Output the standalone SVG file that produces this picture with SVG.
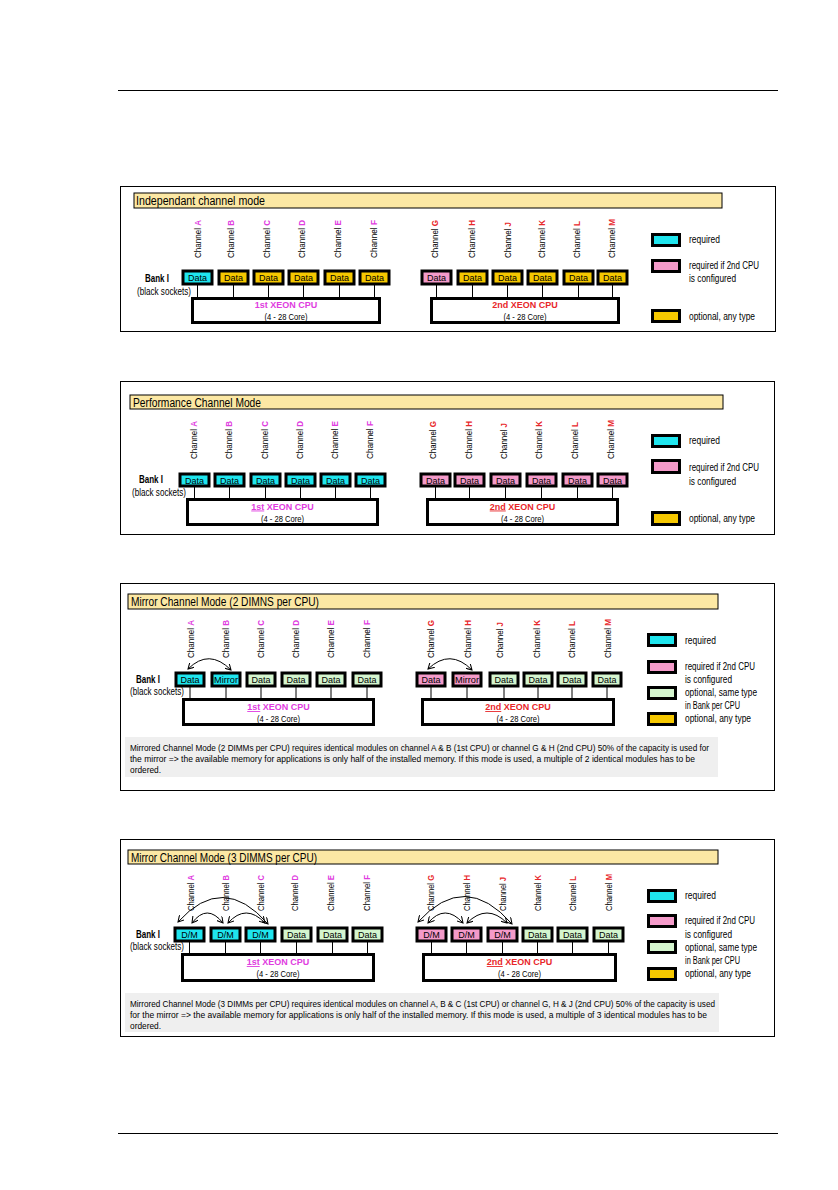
<svg xmlns="http://www.w3.org/2000/svg" width="838" height="1190" viewBox="0 0 838 1190" font-family="'Liberation Sans', Arial, sans-serif">
<style>
.pb{fill:none;stroke:#000;stroke-width:1}
.tb{fill:#FCE8A4;stroke:#000;stroke-width:1}
.tt{font-size:12px}
.ch{font-size:9px;fill:#000}
.m{fill:#E03CE0;font-weight:bold}
.r{fill:#E8272A;font-weight:bold}
.bx{stroke:#000;stroke-width:3}
.c{fill:#1FE5EE}.p{fill:#F49AC9}.y{fill:#F6C800}.g{fill:#D4F5CE}
.dt{font-size:9px;text-anchor:middle}
.cpu{fill:#fff;stroke:#000;stroke-width:3}
.ct{font-size:9.5px;text-anchor:middle}
.cx{font-size:9px;text-anchor:middle}
.lt{font-size:10px}
.bk{font-size:10px}
.cn{stroke:#000;stroke-width:1}
.arc{fill:none;stroke:#000;stroke-width:1;marker-start:url(#ah);marker-end:url(#ah)}
.gb{fill:#EFEFEF}
.gt{font-size:9.5px}
.u{text-decoration:underline}
</style>
<defs>
<marker id="ah" viewBox="0 0 8 8" refX="7" refY="4" markerWidth="7" markerHeight="7" markerUnits="userSpaceOnUse" orient="auto-start-reverse">
<path d="M0,0 L7,4 L0,8" fill="none" stroke="#000" stroke-width="1.2"/>
</marker>
</defs>
<rect width="838" height="1190" fill="#fff"/>
<line x1="118" y1="90.5" x2="778" y2="90.5" stroke="#000" stroke-width="1"/>
<line x1="118" y1="1133.5" x2="778" y2="1133.5" stroke="#000" stroke-width="1"/>

<!-- PANEL 1 -->
<g id="panel1">
<rect class="pb" x="120.5" y="186.5" width="655" height="145"/>
<rect class="tb" x="134" y="193" width="588" height="15"/>
<text class="tt" x="136" y="205" textLength="129" lengthAdjust="spacingAndGlyphs">Independant channel mode</text>
<g id="p1-labels">
<text class="ch" textLength="38" lengthAdjust="spacingAndGlyphs" transform="translate(201,258) rotate(-90)">Channel <tspan class="m">A</tspan></text>
<text class="ch" textLength="38" lengthAdjust="spacingAndGlyphs" transform="translate(234,258) rotate(-90)">Channel <tspan class="m">B</tspan></text>
<text class="ch" textLength="38" lengthAdjust="spacingAndGlyphs" transform="translate(270,258) rotate(-90)">Channel <tspan class="m">C</tspan></text>
<text class="ch" textLength="38" lengthAdjust="spacingAndGlyphs" transform="translate(305,258) rotate(-90)">Channel <tspan class="m">D</tspan></text>
<text class="ch" textLength="38" lengthAdjust="spacingAndGlyphs" transform="translate(341,258) rotate(-90)">Channel <tspan class="m">E</tspan></text>
<text class="ch" textLength="38" lengthAdjust="spacingAndGlyphs" transform="translate(377,258) rotate(-90)">Channel <tspan class="m">F</tspan></text>
<text class="ch" textLength="38" lengthAdjust="spacingAndGlyphs" transform="translate(438,258) rotate(-90)">Channel <tspan class="r">G</tspan></text>
<text class="ch" textLength="38" lengthAdjust="spacingAndGlyphs" transform="translate(475,258) rotate(-90)">Channel <tspan class="r">H</tspan></text>
<text class="ch" textLength="36" lengthAdjust="spacingAndGlyphs" transform="translate(511,258) rotate(-90)">Channel <tspan class="r">J</tspan></text>
<text class="ch" textLength="38" lengthAdjust="spacingAndGlyphs" transform="translate(545,258) rotate(-90)">Channel <tspan class="r">K</tspan></text>
<text class="ch" textLength="37" lengthAdjust="spacingAndGlyphs" transform="translate(580,258) rotate(-90)">Channel <tspan class="r">L</tspan></text>
<text class="ch" textLength="39" lengthAdjust="spacingAndGlyphs" transform="translate(615,258) rotate(-90)">Channel <tspan class="r">M</tspan></text>
</g>
<text class="bk" x="145" y="282" font-weight="bold" textLength="24" lengthAdjust="spacingAndGlyphs">Bank I</text>
<text class="bk" x="137" y="295" textLength="54" lengthAdjust="spacingAndGlyphs">(black sockets)</text>
<g id="p1-connectors">
<line class="cn" x1="197.5" y1="285" x2="197.5" y2="297"/>
<line class="cn" x1="233.5" y1="285" x2="233.5" y2="297"/>
<line class="cn" x1="268.5" y1="285" x2="268.5" y2="297"/>
<line class="cn" x1="303.5" y1="285" x2="303.5" y2="297"/>
<line class="cn" x1="339.5" y1="285" x2="339.5" y2="297"/>
<line class="cn" x1="374.5" y1="285" x2="374.5" y2="297"/>
<line class="cn" x1="436.5" y1="285" x2="436.5" y2="297"/>
<line class="cn" x1="472.5" y1="285" x2="472.5" y2="297"/>
<line class="cn" x1="507.5" y1="285" x2="507.5" y2="297"/>
<line class="cn" x1="542.5" y1="285" x2="542.5" y2="297"/>
<line class="cn" x1="578.5" y1="285" x2="578.5" y2="297"/>
<line class="cn" x1="612.5" y1="285" x2="612.5" y2="297"/>
</g>
<g id="p1-boxes">
<rect class="bx c" x="183" y="271" width="29" height="13"/><text class="dt" x="197.5" y="281">Data</text>
<rect class="bx y" x="219" y="271" width="29" height="13"/><text class="dt" x="233.5" y="281">Data</text>
<rect class="bx y" x="254" y="271" width="29" height="13"/><text class="dt" x="268.5" y="281">Data</text>
<rect class="bx y" x="289" y="271" width="29" height="13"/><text class="dt" x="303.5" y="281">Data</text>
<rect class="bx y" x="325" y="271" width="29" height="13"/><text class="dt" x="339.5" y="281">Data</text>
<rect class="bx y" x="360" y="271" width="29" height="13"/><text class="dt" x="374.5" y="281">Data</text>
<rect class="bx p" x="422" y="271" width="29" height="13"/><text class="dt" x="436.5" y="281">Data</text>
<rect class="bx y" x="458" y="271" width="29" height="13"/><text class="dt" x="472.5" y="281">Data</text>
<rect class="bx y" x="493" y="271" width="29" height="13"/><text class="dt" x="507.5" y="281">Data</text>
<rect class="bx y" x="528" y="271" width="29" height="13"/><text class="dt" x="542.5" y="281">Data</text>
<rect class="bx y" x="564" y="271" width="29" height="13"/><text class="dt" x="578.5" y="281">Data</text>
<rect class="bx y" x="598" y="271" width="29" height="13"/><text class="dt" x="612.5" y="281">Data</text>
</g>
<g id="p1-cpu1"><rect class="cpu" x="192.5" y="298.5" width="187" height="24"/>
<text class="cx m" x="286" y="308">1st XEON CPU</text><text class="ct" x="286" y="320" textLength="43" lengthAdjust="spacingAndGlyphs">(4 - 28 Core)</text></g>
<g id="p1-cpu2"><rect class="cpu" x="431.5" y="298.5" width="187" height="24"/>
<text class="cx r" x="525" y="308">2nd XEON CPU</text><text class="ct" x="525" y="320" textLength="43" lengthAdjust="spacingAndGlyphs">(4 - 28 Core)</text></g>
<g id="p1-legend">
<rect class="bx c" x="652.5" y="234.5" width="27" height="11"/><text class="lt" x="689" y="243" textLength="31" lengthAdjust="spacingAndGlyphs">required</text>
<rect class="bx p" x="652.5" y="260.5" width="27" height="11"/><text class="lt" x="689" y="268.5" textLength="70" lengthAdjust="spacingAndGlyphs">required if 2nd CPU</text><text class="lt" x="689" y="282" textLength="47" lengthAdjust="spacingAndGlyphs">is configured</text>
<rect class="bx y" x="652.5" y="310.5" width="27" height="11"/><text class="lt" x="689" y="319.5" textLength="66" lengthAdjust="spacingAndGlyphs">optional, any type</text>
</g>
</g>

<!-- PANEL 2 -->
<g id="panel2">
<rect class="pb" x="120.5" y="381.5" width="654" height="153"/>
<rect class="tb" x="130" y="395" width="593" height="14"/>
<text class="tt" x="133" y="406.5" textLength="128" lengthAdjust="spacingAndGlyphs">Performance Channel Mode</text>
<g id="p2-labels">
<text class="ch" textLength="38" lengthAdjust="spacingAndGlyphs" transform="translate(197,459) rotate(-90)">Channel <tspan class="m">A</tspan></text>
<text class="ch" textLength="38" lengthAdjust="spacingAndGlyphs" transform="translate(232,459) rotate(-90)">Channel <tspan class="m">B</tspan></text>
<text class="ch" textLength="38" lengthAdjust="spacingAndGlyphs" transform="translate(268,459) rotate(-90)">Channel <tspan class="m">C</tspan></text>
<text class="ch" textLength="38" lengthAdjust="spacingAndGlyphs" transform="translate(303,459) rotate(-90)">Channel <tspan class="m">D</tspan></text>
<text class="ch" textLength="38" lengthAdjust="spacingAndGlyphs" transform="translate(338,459) rotate(-90)">Channel <tspan class="m">E</tspan></text>
<text class="ch" textLength="38" lengthAdjust="spacingAndGlyphs" transform="translate(373,459) rotate(-90)">Channel <tspan class="m">F</tspan></text>
<text class="ch" textLength="38" lengthAdjust="spacingAndGlyphs" transform="translate(436,459) rotate(-90)">Channel <tspan class="r">G</tspan></text>
<text class="ch" textLength="38" lengthAdjust="spacingAndGlyphs" transform="translate(472,459) rotate(-90)">Channel <tspan class="r">H</tspan></text>
<text class="ch" textLength="36" lengthAdjust="spacingAndGlyphs" transform="translate(507,459) rotate(-90)">Channel <tspan class="r">J</tspan></text>
<text class="ch" textLength="38" lengthAdjust="spacingAndGlyphs" transform="translate(542,459) rotate(-90)">Channel <tspan class="r">K</tspan></text>
<text class="ch" textLength="37" lengthAdjust="spacingAndGlyphs" transform="translate(578,459) rotate(-90)">Channel <tspan class="r">L</tspan></text>
<text class="ch" textLength="39" lengthAdjust="spacingAndGlyphs" transform="translate(614,459) rotate(-90)">Channel <tspan class="r">M</tspan></text>
</g>
<text class="bk" x="139" y="483" font-weight="bold" textLength="24" lengthAdjust="spacingAndGlyphs">Bank I</text>
<text class="bk" x="132" y="496" textLength="54" lengthAdjust="spacingAndGlyphs">(black sockets)</text>
<g id="p2-connectors">
<line class="cn" x1="194.5" y1="487" x2="194.5" y2="498"/>
<line class="cn" x1="229.5" y1="487" x2="229.5" y2="498"/>
<line class="cn" x1="265.5" y1="487" x2="265.5" y2="498"/>
<line class="cn" x1="300.5" y1="487" x2="300.5" y2="498"/>
<line class="cn" x1="335.5" y1="487" x2="335.5" y2="498"/>
<line class="cn" x1="370.5" y1="487" x2="370.5" y2="498"/>
<line class="cn" x1="435.5" y1="487" x2="435.5" y2="498"/>
<line class="cn" x1="469.5" y1="487" x2="469.5" y2="498"/>
<line class="cn" x1="505.5" y1="487" x2="505.5" y2="498"/>
<line class="cn" x1="541.5" y1="487" x2="541.5" y2="498"/>
<line class="cn" x1="577.5" y1="487" x2="577.5" y2="498"/>
<line class="cn" x1="612.5" y1="487" x2="612.5" y2="498"/>
</g>
<g id="p2-boxes">
<rect class="bx c" x="180" y="474" width="29" height="12"/><text class="dt" x="194.5" y="483.5">Data</text>
<rect class="bx c" x="215" y="474" width="29" height="12"/><text class="dt" x="229.5" y="483.5">Data</text>
<rect class="bx c" x="251" y="474" width="29" height="12"/><text class="dt" x="265.5" y="483.5">Data</text>
<rect class="bx c" x="286" y="474" width="29" height="12"/><text class="dt" x="300.5" y="483.5">Data</text>
<rect class="bx c" x="321" y="474" width="29" height="12"/><text class="dt" x="335.5" y="483.5">Data</text>
<rect class="bx c" x="356" y="474" width="29" height="12"/><text class="dt" x="370.5" y="483.5">Data</text>
<rect class="bx p" x="421" y="474" width="29" height="12"/><text class="dt" x="435.5" y="483.5">Data</text>
<rect class="bx p" x="455" y="474" width="29" height="12"/><text class="dt" x="469.5" y="483.5">Data</text>
<rect class="bx p" x="491" y="474" width="29" height="12"/><text class="dt" x="505.5" y="483.5">Data</text>
<rect class="bx p" x="527" y="474" width="29" height="12"/><text class="dt" x="541.5" y="483.5">Data</text>
<rect class="bx p" x="563" y="474" width="29" height="12"/><text class="dt" x="577.5" y="483.5">Data</text>
<rect class="bx p" x="598" y="474" width="29" height="12"/><text class="dt" x="612.5" y="483.5">Data</text>
</g>
<g id="p2-cpu1"><rect class="cpu" x="187.5" y="499.5" width="190" height="25"/>
<text class="cx m" x="282.5" y="509.5"><tspan class="u">1st</tspan> XEON CPU</text><text class="ct" x="282.5" y="521.5" textLength="43" lengthAdjust="spacingAndGlyphs">(4 - 28 Core)</text></g>
<g id="p2-cpu2"><rect class="cpu" x="427.5" y="499.5" width="190" height="25"/>
<text class="cx r" x="522.5" y="509.5"><tspan class="u">2nd</tspan> XEON CPU</text><text class="ct" x="522.5" y="521.5" textLength="43" lengthAdjust="spacingAndGlyphs">(4 - 28 Core)</text></g>
<g id="p2-legend">
<rect class="bx c" x="652.5" y="435.5" width="27" height="11"/><text class="lt" x="689" y="444" textLength="31" lengthAdjust="spacingAndGlyphs">required</text>
<rect class="bx p" x="652.5" y="460.5" width="27" height="12"/><text class="lt" x="689" y="470.5" textLength="70" lengthAdjust="spacingAndGlyphs">required if 2nd CPU</text><text class="lt" x="689" y="484.5" textLength="47" lengthAdjust="spacingAndGlyphs">is configured</text>
<rect class="bx y" x="652.5" y="512.5" width="27" height="12"/><text class="lt" x="689" y="521.5" textLength="66" lengthAdjust="spacingAndGlyphs">optional, any type</text>
</g>
</g>

<!-- PANEL 3 -->
<g id="panel3">
<rect class="pb" x="120.5" y="583.5" width="654" height="207"/>
<rect class="tb" x="128" y="594" width="590" height="15"/>
<text class="tt" x="131" y="606" textLength="188" lengthAdjust="spacingAndGlyphs">Mirror Channel Mode (2 DIMNS per CPU)</text>
<g id="p3-labels">
<text class="ch" textLength="38" lengthAdjust="spacingAndGlyphs" transform="translate(194,658) rotate(-90)">Channel <tspan class="m">A</tspan></text>
<text class="ch" textLength="38" lengthAdjust="spacingAndGlyphs" transform="translate(229,658) rotate(-90)">Channel <tspan class="m">B</tspan></text>
<text class="ch" textLength="38" lengthAdjust="spacingAndGlyphs" transform="translate(264,658) rotate(-90)">Channel <tspan class="m">C</tspan></text>
<text class="ch" textLength="38" lengthAdjust="spacingAndGlyphs" transform="translate(299,658) rotate(-90)">Channel <tspan class="m">D</tspan></text>
<text class="ch" textLength="38" lengthAdjust="spacingAndGlyphs" transform="translate(334,658) rotate(-90)">Channel <tspan class="m">E</tspan></text>
<text class="ch" textLength="38" lengthAdjust="spacingAndGlyphs" transform="translate(370,658) rotate(-90)">Channel <tspan class="m">F</tspan></text>
<text class="ch" textLength="38" lengthAdjust="spacingAndGlyphs" transform="translate(434,658) rotate(-90)">Channel <tspan class="r">G</tspan></text>
<text class="ch" textLength="38" lengthAdjust="spacingAndGlyphs" transform="translate(471,658) rotate(-90)">Channel <tspan class="r">H</tspan></text>
<text class="ch" textLength="36" lengthAdjust="spacingAndGlyphs" transform="translate(503,658) rotate(-90)">Channel <tspan class="r">J</tspan></text>
<text class="ch" textLength="38" lengthAdjust="spacingAndGlyphs" transform="translate(540,658) rotate(-90)">Channel <tspan class="r">K</tspan></text>
<text class="ch" textLength="37" lengthAdjust="spacingAndGlyphs" transform="translate(575,658) rotate(-90)">Channel <tspan class="r">L</tspan></text>
<text class="ch" textLength="39" lengthAdjust="spacingAndGlyphs" transform="translate(611,658) rotate(-90)">Channel <tspan class="r">M</tspan></text>
</g>
<text class="bk" x="136" y="683" font-weight="bold" textLength="24" lengthAdjust="spacingAndGlyphs">Bank I</text>
<text class="bk" x="130" y="695" textLength="54" lengthAdjust="spacingAndGlyphs">(black sockets)</text>
<g id="p3-connectors">
<line class="cn" x1="190" y1="687" x2="190" y2="698"/>
<line class="cn" x1="226" y1="687" x2="226" y2="698"/>
<line class="cn" x1="261" y1="687" x2="261" y2="698"/>
<line class="cn" x1="296" y1="687" x2="296" y2="698"/>
<line class="cn" x1="331" y1="687" x2="331" y2="698"/>
<line class="cn" x1="367" y1="687" x2="367" y2="698"/>
<line class="cn" x1="431" y1="687" x2="431" y2="698"/>
<line class="cn" x1="467" y1="687" x2="467" y2="698"/>
<line class="cn" x1="504" y1="687" x2="504" y2="698"/>
<line class="cn" x1="538" y1="687" x2="538" y2="698"/>
<line class="cn" x1="572" y1="687" x2="572" y2="698"/>
<line class="cn" x1="607" y1="687" x2="607" y2="698"/>
<path class="arc" d="M188,669 Q209,648 231,670"/>
<path class="arc" d="M428,669 Q450,648 472,670"/>
</g>
<g id="p3-boxes">
<rect class="bx c" x="176" y="673" width="28" height="13"/><text class="dt" x="190" y="683">Data</text>
<rect class="bx c" x="212" y="673" width="28" height="13"/><text class="dt" x="226" y="683" textLength="24" lengthAdjust="spacingAndGlyphs">Mirror</text>
<rect class="bx g" x="247" y="673" width="28" height="13"/><text class="dt" x="261" y="683">Data</text>
<rect class="bx g" x="282" y="673" width="28" height="13"/><text class="dt" x="296" y="683">Data</text>
<rect class="bx g" x="317" y="673" width="28" height="13"/><text class="dt" x="331" y="683">Data</text>
<rect class="bx g" x="353" y="673" width="28" height="13"/><text class="dt" x="367" y="683">Data</text>
<rect class="bx p" x="417" y="673" width="28" height="13"/><text class="dt" x="431" y="683">Data</text>
<rect class="bx p" x="453" y="673" width="28" height="13"/><text class="dt" x="467" y="683" textLength="24" lengthAdjust="spacingAndGlyphs">Mirror</text>
<rect class="bx g" x="490" y="673" width="28" height="13"/><text class="dt" x="504" y="683">Data</text>
<rect class="bx g" x="524" y="673" width="28" height="13"/><text class="dt" x="538" y="683">Data</text>
<rect class="bx g" x="558" y="673" width="28" height="13"/><text class="dt" x="572" y="683">Data</text>
<rect class="bx g" x="593" y="673" width="28" height="13"/><text class="dt" x="607" y="683">Data</text>
</g>
<g id="p3-cpu1"><rect class="cpu" x="183.5" y="699.5" width="190" height="25"/>
<text class="cx m" x="278.5" y="710"><tspan class="u">1st</tspan> XEON CPU</text><text class="ct" x="278.5" y="721.5" textLength="43" lengthAdjust="spacingAndGlyphs">(4 - 28 Core)</text></g>
<g id="p3-cpu2"><rect class="cpu" x="422.5" y="699.5" width="191" height="25"/>
<text class="cx r" x="518" y="710"><tspan class="u">2nd</tspan> XEON CPU</text><text class="ct" x="518" y="721.5" textLength="43" lengthAdjust="spacingAndGlyphs">(4 - 28 Core)</text></g>
<g id="p3-legend">
<rect class="bx c" x="648.5" y="634.5" width="27" height="11"/><text class="lt" x="685" y="643.5" textLength="31" lengthAdjust="spacingAndGlyphs">required</text>
<rect class="bx p" x="648.5" y="661.5" width="27" height="11"/><text class="lt" x="685" y="669.5" textLength="70" lengthAdjust="spacingAndGlyphs">required if 2nd CPU</text><text class="lt" x="685" y="682.5" textLength="47" lengthAdjust="spacingAndGlyphs">is configured</text>
<rect class="bx g" x="648.5" y="687.5" width="27" height="11"/><text class="lt" x="685" y="696" textLength="72" lengthAdjust="spacingAndGlyphs">optional, same type</text><text class="lt" x="685" y="709" textLength="55" lengthAdjust="spacingAndGlyphs">in Bank per CPU</text>
<rect class="bx y" x="648.5" y="713.5" width="27" height="11"/><text class="lt" x="685" y="721.5" textLength="66" lengthAdjust="spacingAndGlyphs">optional, any type</text>
</g>
<rect class="gb" x="125" y="737" width="593" height="40"/>
<text class="gt" x="130" y="750.5" textLength="579" lengthAdjust="spacingAndGlyphs">Mirrored Channel Mode (2 DIMMs per CPU) requires identical modules on channel A &amp; B (1st CPU) or channel G &amp; H (2nd CPU) 50% of the capacity is used for</text>
<text class="gt" x="130" y="761.5" textLength="565" lengthAdjust="spacingAndGlyphs">the mirror =&gt; the available memory for applications is only half of the installed memory. If this mode is used, a multiple of 2 identical modules has to be</text>
<text class="gt" x="130" y="773" textLength="31" lengthAdjust="spacingAndGlyphs">ordered.</text>
</g>

<!-- PANEL 4 -->
<g id="panel4">
<rect class="pb" x="120.5" y="839.5" width="654" height="197"/>
<rect class="tb" x="128" y="850" width="590" height="14"/>
<text class="tt" x="131" y="861.5" textLength="186" lengthAdjust="spacingAndGlyphs">Mirror Channel Mode (3 DIMMS per CPU)</text>
<g id="p4-labels">
<text class="ch" textLength="36" lengthAdjust="spacingAndGlyphs" transform="translate(194,911) rotate(-90)">Channel <tspan class="m">A</tspan></text>
<text class="ch" textLength="36" lengthAdjust="spacingAndGlyphs" transform="translate(229,911) rotate(-90)">Channel <tspan class="m">B</tspan></text>
<text class="ch" textLength="36" lengthAdjust="spacingAndGlyphs" transform="translate(264,911) rotate(-90)">Channel <tspan class="m">C</tspan></text>
<text class="ch" textLength="36" lengthAdjust="spacingAndGlyphs" transform="translate(298,911) rotate(-90)">Channel <tspan class="m">D</tspan></text>
<text class="ch" textLength="36" lengthAdjust="spacingAndGlyphs" transform="translate(334,911) rotate(-90)">Channel <tspan class="m">E</tspan></text>
<text class="ch" textLength="36" lengthAdjust="spacingAndGlyphs" transform="translate(370,911) rotate(-90)">Channel <tspan class="m">F</tspan></text>
<text class="ch" textLength="36" lengthAdjust="spacingAndGlyphs" transform="translate(434,911) rotate(-90)">Channel <tspan class="r">G</tspan></text>
<text class="ch" textLength="36" lengthAdjust="spacingAndGlyphs" transform="translate(470,911) rotate(-90)">Channel <tspan class="r">H</tspan></text>
<text class="ch" textLength="34" lengthAdjust="spacingAndGlyphs" transform="translate(506,911) rotate(-90)">Channel <tspan class="r">J</tspan></text>
<text class="ch" textLength="36" lengthAdjust="spacingAndGlyphs" transform="translate(541,911) rotate(-90)">Channel <tspan class="r">K</tspan></text>
<text class="ch" textLength="35" lengthAdjust="spacingAndGlyphs" transform="translate(576,911) rotate(-90)">Channel <tspan class="r">L</tspan></text>
<text class="ch" textLength="37" lengthAdjust="spacingAndGlyphs" transform="translate(612,911) rotate(-90)">Channel <tspan class="r">M</tspan></text>
</g>
<text class="bk" x="136" y="938" font-weight="bold" textLength="24" lengthAdjust="spacingAndGlyphs">Bank I</text>
<text class="bk" x="130" y="950" textLength="54" lengthAdjust="spacingAndGlyphs">(black sockets)</text>
<g id="p4-connectors">
<line class="cn" x1="189.5" y1="942" x2="189.5" y2="953"/>
<line class="cn" x1="225.5" y1="942" x2="225.5" y2="953"/>
<line class="cn" x1="260.5" y1="942" x2="260.5" y2="953"/>
<line class="cn" x1="296.5" y1="942" x2="296.5" y2="953"/>
<line class="cn" x1="332.5" y1="942" x2="332.5" y2="953"/>
<line class="cn" x1="367.5" y1="942" x2="367.5" y2="953"/>
<line class="cn" x1="431.5" y1="942" x2="431.5" y2="953"/>
<line class="cn" x1="466.5" y1="942" x2="466.5" y2="953"/>
<line class="cn" x1="502.5" y1="942" x2="502.5" y2="953"/>
<line class="cn" x1="537.5" y1="942" x2="537.5" y2="953"/>
<line class="cn" x1="572.5" y1="942" x2="572.5" y2="953"/>
<line class="cn" x1="608.5" y1="942" x2="608.5" y2="953"/>
<path class="arc" d="M178,922 Q223,872 268,924"/>
<path class="arc" d="M192,923 Q207,903 223,923"/>
<path class="arc" d="M228,923 Q246,903 265,923"/>
<path class="arc" d="M418,922 Q465,870 512,924"/>
<path class="arc" d="M428,923 Q445,903 463,923"/>
<path class="arc" d="M467,923 Q487,903 507,923"/>
</g>
<g id="p4-boxes">
<rect class="bx c" x="175" y="928" width="29" height="13"/><text class="dt" x="189.5" y="938">D/M</text>
<rect class="bx c" x="211" y="928" width="29" height="13"/><text class="dt" x="225.5" y="938">D/M</text>
<rect class="bx c" x="246" y="928" width="29" height="13"/><text class="dt" x="260.5" y="938">D/M</text>
<rect class="bx g" x="282" y="928" width="29" height="13"/><text class="dt" x="296.5" y="938">Data</text>
<rect class="bx g" x="318" y="928" width="29" height="13"/><text class="dt" x="332.5" y="938">Data</text>
<rect class="bx g" x="353" y="928" width="29" height="13"/><text class="dt" x="367.5" y="938">Data</text>
<rect class="bx p" x="417" y="928" width="29" height="13"/><text class="dt" x="431.5" y="938">D/M</text>
<rect class="bx p" x="452" y="928" width="29" height="13"/><text class="dt" x="466.5" y="938">D/M</text>
<rect class="bx p" x="488" y="928" width="29" height="13"/><text class="dt" x="502.5" y="938">D/M</text>
<rect class="bx g" x="523" y="928" width="29" height="13"/><text class="dt" x="537.5" y="938">Data</text>
<rect class="bx g" x="558" y="928" width="29" height="13"/><text class="dt" x="572.5" y="938">Data</text>
<rect class="bx g" x="594" y="928" width="29" height="13"/><text class="dt" x="608.5" y="938">Data</text>
</g>
<g id="p4-cpu1"><rect class="cpu" x="182.5" y="954.5" width="191" height="26"/>
<text class="cx m" x="278" y="965"><tspan class="u">1st</tspan> XEON CPU</text><text class="ct" x="278" y="977" textLength="43" lengthAdjust="spacingAndGlyphs">(4 - 28 Core)</text></g>
<g id="p4-cpu2"><rect class="cpu" x="423.5" y="954.5" width="192" height="26"/>
<text class="cx r" x="519.5" y="965"><tspan class="u">2nd</tspan> XEON CPU</text><text class="ct" x="519.5" y="977" textLength="43" lengthAdjust="spacingAndGlyphs">(4 - 28 Core)</text></g>
<g id="p4-legend">
<rect class="bx c" x="648.5" y="890.5" width="27" height="11"/><text class="lt" x="685" y="899" textLength="31" lengthAdjust="spacingAndGlyphs">required</text>
<rect class="bx p" x="648.5" y="915.5" width="27" height="11"/><text class="lt" x="685" y="923.5" textLength="70" lengthAdjust="spacingAndGlyphs">required if 2nd CPU</text><text class="lt" x="685" y="937.5" textLength="47" lengthAdjust="spacingAndGlyphs">is configured</text>
<rect class="bx g" x="648.5" y="941.5" width="27" height="11"/><text class="lt" x="685" y="950.5" textLength="72" lengthAdjust="spacingAndGlyphs">optional, same type</text><text class="lt" x="685" y="963.5" textLength="55" lengthAdjust="spacingAndGlyphs">in Bank per CPU</text>
<rect class="bx y" x="648.5" y="968.5" width="27" height="11"/><text class="lt" x="685" y="976.5" textLength="66" lengthAdjust="spacingAndGlyphs">optional, any type</text>
</g>
<rect class="gb" x="125" y="993" width="594" height="39"/>
<text class="gt" x="130" y="1006.5" textLength="585" lengthAdjust="spacingAndGlyphs">Mirrored Channel Mode (3 DIMMs per CPU) requires identical modules on channel A, B &amp; C (1st CPU) or channel G, H &amp; J (2nd CPU) 50% of the capacity is used</text>
<text class="gt" x="130" y="1017.5" textLength="577" lengthAdjust="spacingAndGlyphs">for the mirror =&gt; the available memory for applications is only half of the installed memory. If this mode is used, a multiple of 3 identical modules has to be</text>
<text class="gt" x="130" y="1029" textLength="31" lengthAdjust="spacingAndGlyphs">ordered.</text>
</g>
</svg>
